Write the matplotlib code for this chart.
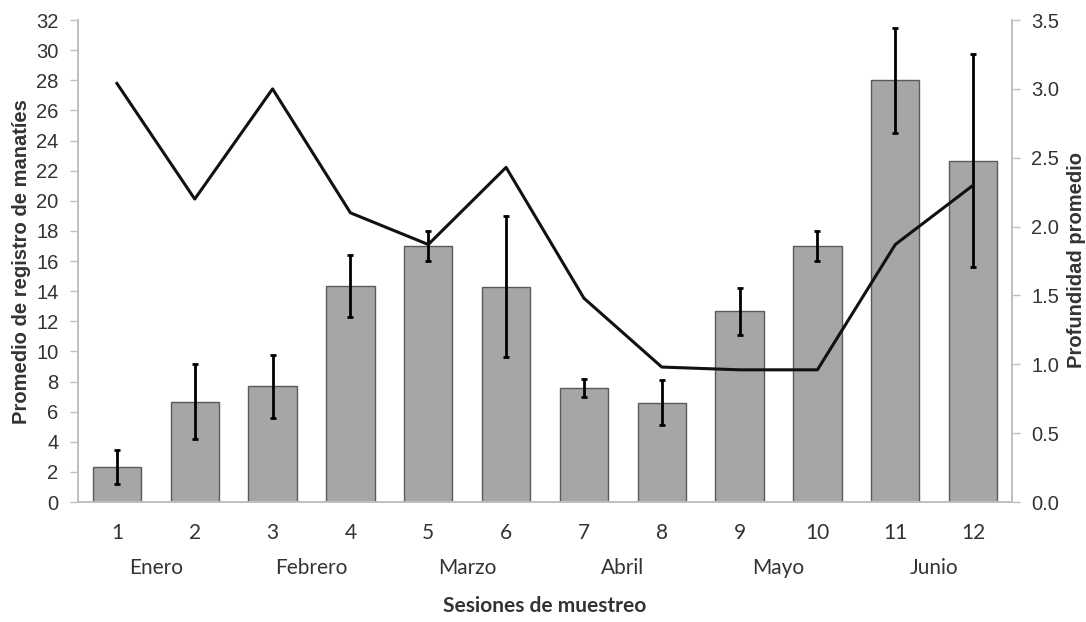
import numpy as np
import matplotlib.pyplot as plt

sesiones = list(range(1, 13))
manaties = [2.33, 6.67, 7.67, 14.33, 17.0, 14.3, 7.6, 6.6, 12.67, 17.0, 28.0, 22.67]
error = [1.15, 2.5, 2.1, 2.05, 1.0, 4.7, 0.6, 1.5, 1.55, 1.0, 3.5, 7.1]
profundidad = [3.04, 2.20, 3.00, 2.10, 1.87, 2.43, 1.48, 0.98, 0.96, 0.96, 1.87, 2.30]
meses = ['Enero', 'Febrero', 'Marzo', 'Abril', 'Mayo', 'Junio']

plt.rcParams['font.family'] = ['Liberation Sans', 'DejaVu Sans']
humanist = ['Lato', 'Liberation Sans', 'DejaVu Sans']
gris = '#bfbfbf'
texto = '#333333'

fig = plt.figure(figsize=(10.86, 6.22), dpi=100)
ax = fig.add_axes([0.0718, 0.1929, 0.8601, 0.7749])
ax2 = ax.twinx()

x = np.array(sesiones)
ax.bar(x, manaties, width=0.62, color='#a6a6a6', edgecolor='#5a5a5a', linewidth=1.0, zorder=2)
ax.errorbar(x, manaties, yerr=error, fmt='none', ecolor='black', elinewidth=2,
            capsize=2, capthick=2, zorder=3)
ax2.plot(x, profundidad, color='#111111', linewidth=2.2)

ax.set_xlim(0.5, 12.5)
ax.set_ylim(0, 32)
ax.set_yticks(range(0, 33, 2))
ax2.set_ylim(0, 3.5)
ax2.set_yticks(np.arange(0, 3.51, 0.5))
ax2.set_yticklabels([f'{v:.1f}' for v in np.arange(0, 3.51, 0.5)])

for a in (ax, ax2):
    a.spines['top'].set_visible(False)
    for s in ('left', 'right', 'bottom'):
        a.spines[s].set_color(gris)
        a.spines[s].set_linewidth(1.2)
    a.tick_params(axis='y', colors=gris, labelcolor=texto, labelsize=14.5,
                  length=6, width=1, pad=8)

ax.set_xticks(x)
ax.set_xticklabels([str(s) for s in sesiones], family=humanist, fontsize=15, color=texto)
ax.tick_params(axis='x', length=0, pad=15)

for i, mes in enumerate(meses):
    ax.text(1.5 + 2 * i, -0.137, mes, transform=ax.get_xaxis_transform(),
            ha='center', va='center', family=humanist, fontsize=15, color=texto)

ax.text(6.5, -0.216, 'Sesiones de muestreo', transform=ax.get_xaxis_transform(),
        ha='center', va='center', family=humanist, fontsize=15, fontweight='bold', color=texto)

fig.text(0.020, 0.579, 'Promedio de registro de manatíes', rotation=90, ha='center',
         va='center', fontsize=14.5, fontweight='bold', color=texto)
fig.text(0.9917, 0.582, 'Profundidad promedio', rotation=90, ha='center',
         va='center', fontsize=14.5, fontweight='bold', color=texto)

fig.savefig('out.png', dpi=100)
